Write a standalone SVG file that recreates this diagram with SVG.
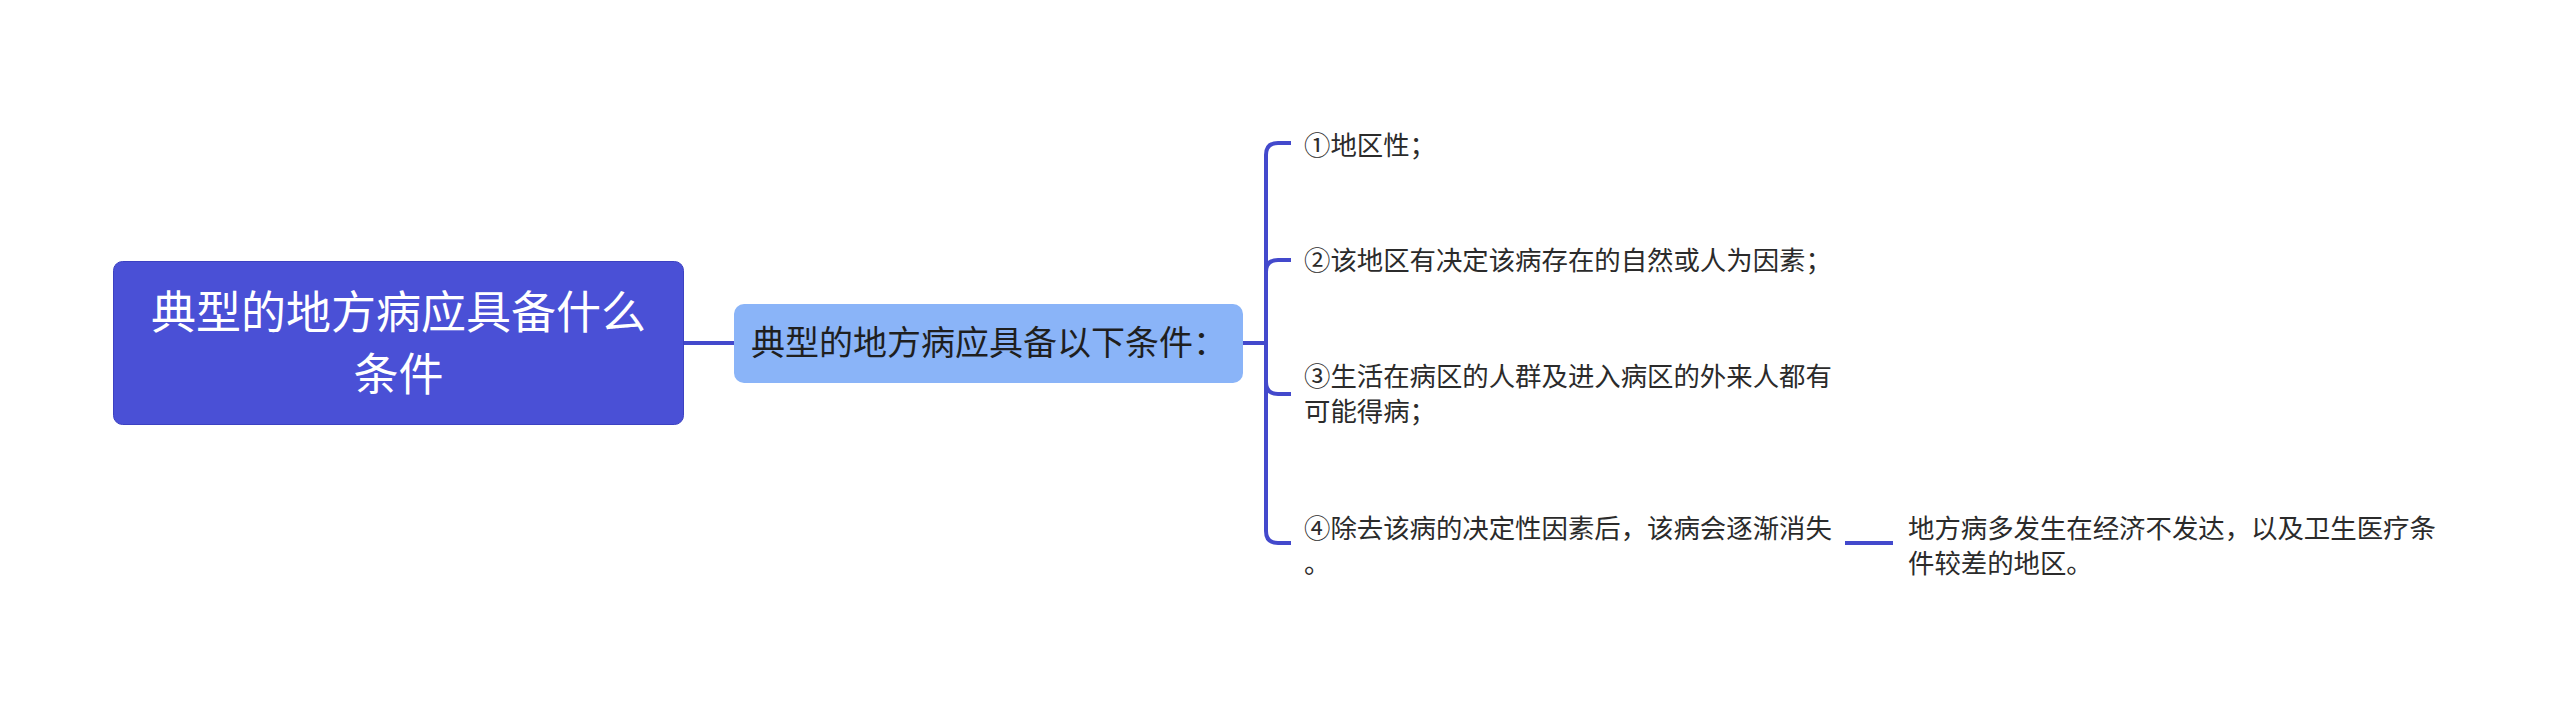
<svg xmlns="http://www.w3.org/2000/svg" width="2560" height="704" viewBox="0 0 2560 704">
<style>
.t{font-family:"Noto Sans CJK SC","Noto Sans",sans-serif;}
.root{font-size:45px;fill:#ffffff;}
.mid{font-size:34px;fill:#1f1f1f;}
.leaf{font-size:26.4px;fill:#2b2b2b;}
.ln{fill:none;stroke:#4349CC;stroke-width:4;stroke-linecap:butt;}
</style>
<rect width="2560" height="704" fill="#ffffff"/>
<g id="connectors">
<path class="ln" d="M684,343 H734" stroke-width="3"/>
<path class="ln" d="M1243,343 H1266"/>
<path class="ln" d="M1266,343 V155 Q1266,143 1278,143 H1291"/>
<path class="ln" d="M1266,343 V272 Q1266,260 1278,260 H1291"/>
<path class="ln" d="M1266,343 V382 Q1266,394 1278,394 H1291"/>
<path class="ln" d="M1266,343 V531 Q1266,543 1278,543 H1291"/>
<path class="ln" d="M1845,543 H1893"/>
</g>
<g id="root">
<rect x="113.5" y="261.5" width="570" height="163" rx="9" fill="#4A50D6" stroke="#3C41C2" stroke-width="1"/>
<text class="t root" x="398.5" y="329" text-anchor="middle">典型的地方病应具备什么</text>
<text class="t root" x="398.5" y="391" text-anchor="middle">条件</text>
</g>
<g id="mid">
<rect x="734" y="304" width="509" height="79" rx="10" fill="#8AB4F8"/>
<text class="t mid" x="751" y="355">典型的地方病应具备以下条件：</text>
</g>
<g id="item1">
<text class="t leaf" x="1304" y="155">①地区性；</text>
</g>
<g id="item2">
<text class="t leaf" x="1304" y="270">②该地区有决定该病存在的自然或人为因素；</text>
</g>
<g id="item3">
<text class="t leaf" x="1304" y="386">③生活在病区的人群及进入病区的外来人都有</text>
<text class="t leaf" x="1304" y="421">可能得病；</text>
</g>
<g id="item4">
<text class="t leaf" x="1304" y="538">④除去该病的决定性因素后，该病会逐渐消失</text>
<text class="t leaf" x="1304" y="573">。</text>
</g>
<g id="item4child">
<text class="t leaf" x="1908" y="538">地方病多发生在经济不发达，以及卫生医疗条</text>
<text class="t leaf" x="1908" y="573">件较差的地区。</text>
</g>
</svg>
